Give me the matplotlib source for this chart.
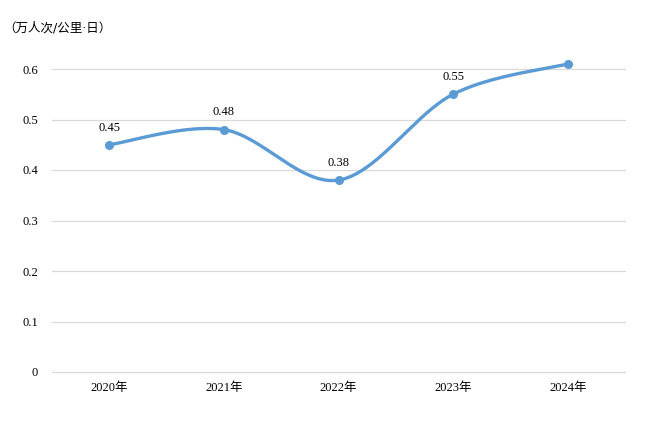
import matplotlib
matplotlib.use("Agg")
import matplotlib.pyplot as plt
import numpy as np

categories = ["2020年", "2021年", "2022年", "2023年", "2024年"]
values = [0.45, 0.48, 0.38, 0.55, 0.61]
yticks = [0, 0.1, 0.2, 0.3, 0.4, 0.5, 0.6]
ytick_labels = ["0", "0.1", "0.2", "0.3", "0.4", "0.5", "0.6"]
unit_label = "（万人次/公里·日）"

plt.rcParams['font.family'] = ['Liberation Serif', 'Noto Sans CJK SC', 'DejaVu Sans']

fig = plt.figure(figsize=(6.45, 4.21), dpi=100)
ax = fig.add_axes([52/645, 1-372/421, (625-52)/645, (372-69)/421])

x = np.arange(len(values), dtype=float)
y = np.array(values, dtype=float)
P = np.column_stack([x, y])
n = len(P)
curve = []
for i in range(n-1):
    p0 = P[max(i-1, 0)]
    p1 = P[i]
    p2 = P[i+1]
    p3 = P[min(i+2, n-1)]
    c1 = p1 + (p2 - p0)/6
    c2 = p2 - (p3 - p1)/6
    t = np.linspace(0, 1, 60)[:, None]
    seg = (1-t)**3*p1 + 3*(1-t)**2*t*c1 + 3*(1-t)*t**2*c2 + t**3*p2
    curve.append(seg)
curve = np.vstack(curve)

color = "#5B9BD5"
ax.plot(curve[:, 0], curve[:, 1], color=color, lw=2.4, clip_on=False, solid_capstyle='round', zorder=3)
ax.plot(x, y, 'o', color=color, ms=5.5, clip_on=False, zorder=4)
for xi, yi in zip(x, y):
    ax.annotate(f"{yi:.2f}", (xi, yi), xytext=(0, 8), textcoords='offset points',
                ha='center', va='bottom', fontsize=9, color='#000000')

ax.set_xlim(-0.5, len(values)-0.5)
ax.set_ylim(0, 0.6)
ax.set_yticks(yticks)
ax.set_yticklabels(ytick_labels)
ax.set_xticks(x)
ax.set_xticklabels(categories)
ax.tick_params(axis='both', length=0, labelsize=9, colors='#000000')
ax.tick_params(axis='y', pad=10)
ax.tick_params(axis='x', pad=7)
ax.grid(axis='y', color='#D9D9D9', lw=0.9)
for gl in ax.get_ygridlines():
    gl.set_clip_on(False)
ax.set_axisbelow(True)
for s in ax.spines.values():
    s.set_visible(False)

fig.text(3/645, 1-28/421, unit_label, fontsize=9, ha='left', va='center',
         family=['DejaVu Sans', 'Noto Sans CJK SC'])

fig.savefig("out.png", dpi=100)
